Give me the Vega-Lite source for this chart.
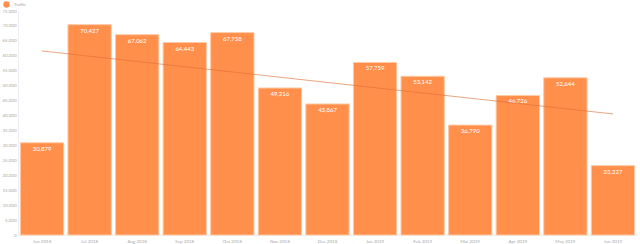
{
  "$schema": "https://vega.github.io/schema/vega-lite/v6.json",
  "autosize": "none",
  "width": 619,
  "height": 224,
  "padding": {"left": 18, "top": 11, "right": 3, "bottom": 9},
  "background": "white",
  "config": {
    "view": {"stroke": null},
    "font": "Lato",
    "axis": {"labelOverlap": false, "title": null, "grid": false, "ticks": false, "labelFontSize": 4.5, "labelColor": "#aaa", "domainColor": "#eee"},
    "axisY": {"labelPadding": 2},
    "axisX": {"labelPadding": 3, "labelAngle": 0}
  },
  "data": {"values": [
    {"month": "Jun 2018", "Traffic": 30879, "trend": 61614},
    {"month": "Jul 2018", "Traffic": 70427, "trend": 59857},
    {"month": "Aug 2018", "Traffic": 67062, "trend": 58100},
    {"month": "Sep 2018", "Traffic": 64443, "trend": 56343},
    {"month": "Oct 2018", "Traffic": 67758, "trend": 54586},
    {"month": "Nov 2018", "Traffic": 49216, "trend": 52829},
    {"month": "Dec 2018", "Traffic": 43867, "trend": 51072},
    {"month": "Jan 2019", "Traffic": 57759, "trend": 49315},
    {"month": "Feb 2019", "Traffic": 53142, "trend": 47558},
    {"month": "Mar 2019", "Traffic": 36790, "trend": 45801},
    {"month": "Apr 2019", "Traffic": 46726, "trend": 44044},
    {"month": "May 2019", "Traffic": 52644, "trend": 42287},
    {"month": "Jun 2019", "Traffic": 23227, "trend": 40530}
  ]},
  "encoding": {
    "x": {
      "field": "month", "type": "nominal", "sort": null,
      "scale": {"paddingInner": 0.09, "paddingOuter": 0.05},
      "axis": {}
    }
  },
  "layer": [
    {
      "mark": {"type": "bar", "color": "#ff8f4a", "stroke": "#ffc9a6", "strokeWidth": 1},
      "encoding": {
        "y": {"field": "Traffic", "type": "quantitative", "scale": {"domain": [0, 75000], "nice": false},
          "axis": {"tickCount": 15}},
        "fill": {"datum": "Traffic", "type": "nominal", "scale": {"range": ["#ff8f4a"]},
          "legend": {"title": null, "orient": "none", "legendX": -15, "legendY": -10, "symbolType": "circle", "symbolSize": 40, "labelFontSize": 4.5, "labelColor": "#aaa", "symbolStrokeWidth": 0}}
      }
    },
    {
      "mark": {"type": "text", "color": "white", "fontSize": 6, "baseline": "top", "dy": 3},
      "encoding": {
        "y": {"field": "Traffic", "type": "quantitative"},
        "text": {"field": "Traffic", "type": "quantitative", "format": ","}
      }
    },
    {
      "mark": {"type": "line", "color": "#e0703a", "strokeWidth": 0.8, "opacity": 0.8},
      "encoding": {
        "y": {"field": "trend", "type": "quantitative"}
      }
    }
  ]
}
